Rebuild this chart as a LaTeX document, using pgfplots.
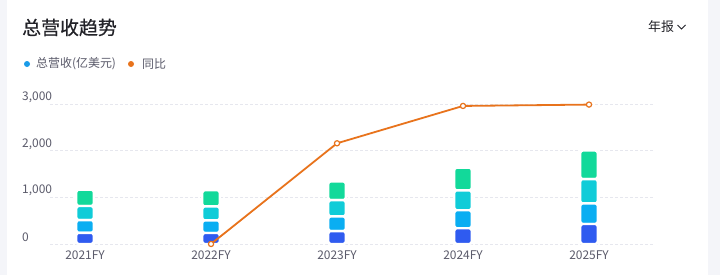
\documentclass[border=0pt]{standalone}
\usepackage{fontspec}
\setmainfont{Noto Sans CJK SC}
\newfontfamily\titlefont[FakeBold=0.5]{Noto Sans CJK SC}
\usepackage{pgfplots}
\pgfplotsset{compat=1.18}
\definecolor{pagebg}{HTML}{F4F5F9}
\definecolor{titlec}{HTML}{222228}
\definecolor{labc}{HTML}{5B5B6B}
\definecolor{gridc}{HTML}{E6E7EE}
\definecolor{segA}{HTML}{2F5BF0}
\definecolor{segB}{HTML}{0AAEF2}
\definecolor{segC}{HTML}{10CCD8}
\definecolor{segD}{HTML}{12D99A}
\definecolor{linec}{HTML}{E8731C}
\definecolor{legblue}{HTML}{1A9BE8}
\begin{document}
\begin{tikzpicture}
\begin{scope}[x=1bp,y=1bp]
\fill[pagebg] (0,0) rectangle (720,275);
\fill[white] (7,0) rectangle (708,275);
\clip (0,0) rectangle (720,275);
\node[anchor=west, inner sep=0pt, text=titlec, font=\titlefont\fontsize{19}{19}\selectfont] at (22,247.5) {总营收趋势};
\fill[legblue] (27,211) circle (3);
\node[anchor=west, inner sep=0pt, text=labc, font=\fontsize{12}{12}\selectfont] at (36,211) {总营收(亿美元)};
\fill[linec] (131,211) circle (3);
\node[anchor=west, inner sep=0pt, text=labc, font=\fontsize{12}{12}\selectfont] at (142,211) {同比};
\node[anchor=west, inner sep=0pt, text=titlec, font=\fontsize{13}{13}\selectfont] at (648,248) {年报};
\draw[titlec, line width=0.9] (677.5,250) -- (681.5,246) -- (685.5,250);
\end{scope}
\begin{axis}[
  at={(50bp,21.7bp)}, anchor=south west,
  scale only axis, width=603bp, height=158.7bp,
  xmin=-0.278, xmax=4.508, ymin=-200, ymax=3200,
  ybar stacked, bar width=17.5bp,
  axis line style={draw=none}, major tick length=0pt,
  ymajorgrids, grid style={gridc, dash pattern=on 3bp off 2bp, line width=0.8bp},
  ytick={0,1000,2000,3000}, scaled y ticks=false,
  /pgf/number format/assume math mode=true,
  /pgf/number format/1000 sep={,},
  yticklabel style={anchor=west, inner sep=0pt, xshift=-28bp, yshift=6.5bp, text=labc, font=\fontsize{12}{12}\selectfont},
  xtick={0,1,2,3,4},
  xticklabels={2021FY,2022FY,2023FY,2024FY,2025FY},
  xticklabel style={anchor=base, inner sep=0pt, yshift=-6bp, text=labc, font=\fontsize{12}{12}\selectfont},
  clip=false,
]
\addplot[fill=segA, draw=white, line width=2.4bp, rounded corners=2.5bp] coordinates {(0,239) (1,236) (2,276) (3,337) (4,428)};
\addplot[fill=segB, draw=white, line width=2.4bp, rounded corners=2.5bp] coordinates {(0,273) (1,270) (2,315) (3,386) (4,441)};
\addplot[fill=segC, draw=white, line width=2.4bp, rounded corners=2.5bp] coordinates {(0,301) (1,298) (2,348) (3,426) (4,521)};
\addplot[fill=segD, draw=white, line width=2.4bp, rounded corners=2.5bp] coordinates {(0,350) (1,348) (2,402) (3,485) (4,612)};
\end{axis}
\begin{axis}[
  at={(50bp,21.7bp)}, anchor=south west,
  scale only axis, width=603bp, height=158.7bp,
  xmin=-0.278, xmax=4.508, ymin=-200, ymax=3200,
  hide axis, clip=false,
]
\addplot[linec, line width=1.8bp, mark=*, mark size=2.6bp, mark options={fill=white, draw=linec, line width=1.2bp}] coordinates {(1,0) (2,2157) (3,2957) (4,2986)};
\end{axis}
\end{tikzpicture}
\end{document}
